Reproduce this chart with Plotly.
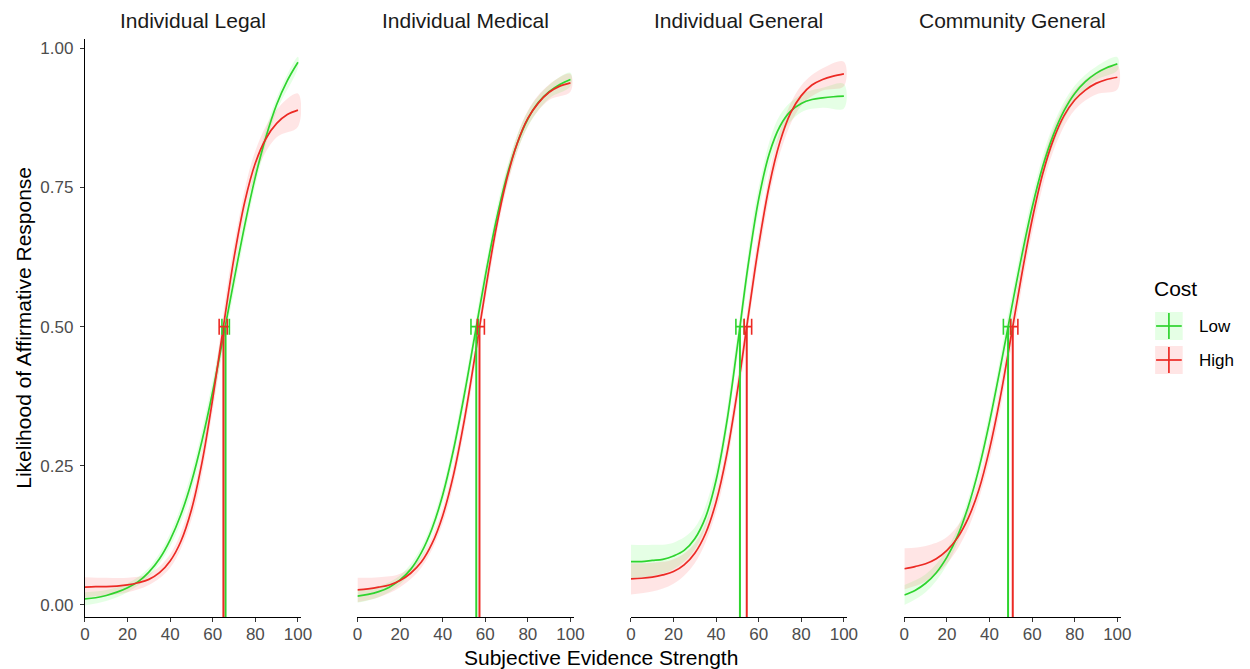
import plotly.graph_objects as go

# ---------------- data ----------------
panels = ["Individual Legal", "Individual Medical", "Individual General", "Community General"]
cost_levels = ["Low", "High"]

x_grid = [0, 5, 10, 15, 20, 25, 30, 35, 40, 45, 50, 55, 60, 65, 70, 75, 80, 85, 90, 95, 100]
x_ribbon = [0, 10, 20, 30, 40, 50, 60, 70, 80, 90, 100]

legal_low = [0.011, 0.013, 0.017, 0.023, 0.031, 0.042, 0.059, 0.083, 0.117, 0.162, 0.221,
             0.296, 0.384, 0.483, 0.584, 0.682, 0.769, 0.841, 0.899, 0.942, 0.975]
legal_high = [0.032, 0.033, 0.033, 0.034, 0.036, 0.040, 0.046, 0.058, 0.079, 0.114, 0.171,
              0.257, 0.371, 0.500, 0.624, 0.724, 0.794, 0.838, 0.865, 0.881, 0.889]
medical_low = [0.016, 0.019, 0.024, 0.032, 0.045, 0.064, 0.094, 0.137, 0.197, 0.277, 0.374,
               0.482, 0.590, 0.688, 0.768, 0.829, 0.873, 0.903, 0.922, 0.935, 0.944]
medical_high = [0.027, 0.029, 0.032, 0.036, 0.044, 0.057, 0.077, 0.110, 0.160, 0.232, 0.328,
                0.443, 0.563, 0.674, 0.763, 0.829, 0.874, 0.902, 0.921, 0.932, 0.938]
general_low = [0.078, 0.078, 0.080, 0.082, 0.088, 0.098, 0.119, 0.157, 0.224, 0.328, 0.465,
               0.609, 0.729, 0.811, 0.860, 0.887, 0.901, 0.908, 0.911, 0.913, 0.914]
general_high = [0.047, 0.048, 0.050, 0.054, 0.060, 0.072, 0.093, 0.128, 0.185, 0.270, 0.384,
                0.516, 0.646, 0.754, 0.832, 0.884, 0.915, 0.934, 0.944, 0.950, 0.954]
community_low = [0.018, 0.026, 0.039, 0.058, 0.086, 0.124, 0.177, 0.245, 0.329, 0.425, 0.526,
                 0.625, 0.714, 0.788, 0.845, 0.888, 0.919, 0.940, 0.955, 0.965, 0.972]
community_high = [0.065, 0.069, 0.074, 0.083, 0.098, 0.121, 0.156, 0.207, 0.280, 0.372, 0.480,
                  0.591, 0.692, 0.775, 0.836, 0.879, 0.907, 0.925, 0.937, 0.944, 0.948]

# confidence-band half widths at x_ribbon
legal_low_hw = [0.012, 0.010, 0.008, 0.008, 0.012, 0.018, 0.020, 0.020, 0.016, 0.012, 0.010]
legal_high_hw = [0.018, 0.016, 0.013, 0.010, 0.012, 0.018, 0.022, 0.024, 0.022, 0.025, 0.030]
medical_low_hw = [0.012, 0.010, 0.008, 0.010, 0.014, 0.018, 0.018, 0.016, 0.014, 0.012, 0.012]
medical_high_hw = [0.022, 0.018, 0.012, 0.010, 0.014, 0.018, 0.018, 0.016, 0.014, 0.014, 0.016]
general_low_hw = [0.030, 0.028, 0.024, 0.020, 0.020, 0.022, 0.022, 0.020, 0.016, 0.018, 0.022]
general_high_hw = [0.028, 0.026, 0.022, 0.018, 0.018, 0.022, 0.022, 0.020, 0.018, 0.020, 0.022]
community_low_hw = [0.018, 0.016, 0.014, 0.014, 0.018, 0.022, 0.020, 0.018, 0.014, 0.012, 0.012]
community_high_hw = [0.037, 0.032, 0.024, 0.018, 0.020, 0.024, 0.024, 0.020, 0.018, 0.020, 0.022]

# 50% thresholds and their intervals
threshold_low = [66.0, 55.8, 51.2, 48.7]
threshold_low_ci_lo = [64.3, 53.3, 49.3, 46.5]
threshold_low_ci_hi = [67.8, 56.8, 53.2, 49.9]
threshold_high = [65.0, 57.3, 54.4, 50.9]
threshold_high_ci_lo = [63.0, 56.3, 53.2, 49.9]
threshold_high_ci_hi = [66.8, 59.6, 56.7, 53.3]

x_ticks = [0, 20, 40, 60, 80, 100]
y_ticks = [0, 0.25, 0.5, 0.75, 1.0]
y_tick_labels = ["0.00", "0.25", "0.50", "0.75", "1.00"]

curves_low = [legal_low, medical_low, general_low, community_low]
curves_high = [legal_high, medical_high, general_high, community_high]
hw_low = [legal_low_hw, medical_low_hw, general_low_hw, community_low_hw]
hw_high = [legal_high_hw, medical_high_hw, general_high_hw, community_high_hw]

# ---------------- style ----------------
W, H = 1250, 669
FONT = "Liberation Sans, Arial, Helvetica, sans-serif"
GREEN = "#2ED42E"
RED = "#EC2A24"
GREEN_FILL = "rgba(0,255,0,0.10)"
RED_FILL = "rgba(255,0,0,0.10)"
X_RANGE = [0, 101.5]
Y_RANGE = [-0.0216, 1.0167]

panel_px = [(81, 300), (357, 576), (634, 853), (911, 1130)]
plot_top_px, plot_bot_px = 39, 617


def px_x(p):
    return p / W


def px_y(p):
    return 1 - p / H


fig = go.Figure()

for i in range(4):
    xa = "x" if i == 0 else f"x{i + 1}"
    series = [(curves_low[i], hw_low[i], GREEN, GREEN_FILL,
               threshold_low[i], threshold_low_ci_lo[i], threshold_low_ci_hi[i]),
              (curves_high[i], hw_high[i], RED, RED_FILL,
               threshold_high[i], threshold_high_ci_lo[i], threshold_high_ci_hi[i])]
    # ribbons
    for curve, hw, col, fillc, *_ in series:
        mids = [curve[x_grid.index(xv)] for xv in x_ribbon]
        upper = [m + h for m, h in zip(mids, hw)]
        lower = [m - h for m, h in zip(mids, hw)]
        fig.add_trace(go.Scatter(
            x=x_ribbon + x_ribbon[::-1], y=upper + lower[::-1],
            fill="toself", fillcolor=fillc, line=dict(width=0, shape="spline"),
            mode="lines", hoverinfo="skip", showlegend=False, xaxis=xa, yaxis="y"))
    # curves
    for curve, hw, col, fillc, *_ in series:
        fig.add_trace(go.Scatter(
            x=x_grid, y=curve, mode="lines",
            line=dict(color=col, width=1.7, shape="spline"),
            showlegend=False, xaxis=xa, yaxis="y"))
    # vertical threshold lines
    for curve, hw, col, fillc, t, lo, hi in series:
        fig.add_trace(go.Scatter(
            x=[t, t], y=[Y_RANGE[0], 0.5], mode="lines",
            line=dict(color=col, width=2),
            showlegend=False, xaxis=xa, yaxis="y"))
    # horizontal error bars
    for curve, hw, col, fillc, t, lo, hi in series:
        fig.add_trace(go.Scatter(
            x=[t], y=[0.5], mode="markers", marker=dict(size=0.1, color=col, opacity=0),
            error_x=dict(type="data", symmetric=False, array=[hi - t], arrayminus=[t - lo],
                         color=col, thickness=1.6, width=8),
            showlegend=False, xaxis=xa, yaxis="y"))

layout = dict(
    width=W, height=H,
    margin=dict(l=0, r=0, t=0, b=0),
    paper_bgcolor="white", plot_bgcolor="white",
    font=dict(family=FONT, color="black"),
    showlegend=False,
    yaxis=dict(
        domain=[px_y(plot_bot_px), px_y(plot_top_px)], range=Y_RANGE, anchor="x",
        tickmode="array", tickvals=y_ticks, ticktext=y_tick_labels,
        ticks="outside", ticklen=4, tickwidth=1.1, tickcolor="#333333",
        tickfont=dict(size=17, color="#4D4D4D", family=FONT),
        ticklabelstandoff=3,
        showline=True, linecolor="black", linewidth=1.4,
        showgrid=False, zeroline=False,
    ),
)
for i in range(4):
    key = "xaxis" if i == 0 else f"xaxis{i + 1}"
    l, r = panel_px[i]
    layout[key] = dict(
        domain=[px_x(l), px_x(r)], range=X_RANGE, anchor="y",
        tickmode="array", tickvals=x_ticks,
        ticks="outside", ticklen=4, tickwidth=1.1, tickcolor="#333333",
        tickfont=dict(size=17, color="#4D4D4D", family=FONT),
        ticklabelstandoff=-3,
        showline=True, linecolor="black", linewidth=1.4,
        showgrid=False, zeroline=False,
    )
fig.update_layout(**layout)

annotations = []
for i, name in enumerate(panels):
    l, r = panel_px[i]
    annotations.append(dict(
        text=name, x=px_x((l + r) / 2), y=px_y(20), xref="paper", yref="paper",
        showarrow=False, xanchor="center", yanchor="middle",
        font=dict(size=21, color="#1A1A1A", family=FONT)))
annotations.append(dict(
    text="Subjective Evidence Strength", x=px_x(604), y=px_y(657), xref="paper", yref="paper",
    showarrow=False, xanchor="center", yanchor="middle", font=dict(size=21, color="black", family=FONT)))
annotations.append(dict(
    text="Likelihood of Affirmative Response", x=px_x(19), y=px_y(328), xref="paper", yref="paper",
    showarrow=False, textangle=-90, xanchor="center", yanchor="middle",
    font=dict(size=21, color="black", family=FONT)))

# legend (drawn manually)
annotations.append(dict(
    text="Cost", x=px_x(1162), y=px_y(288), xref="paper", yref="paper",
    showarrow=False, xanchor="left", yanchor="middle", font=dict(size=21, color="black", family=FONT)))
shapes = []
legend_items = [(cost_levels[0], GREEN, GREEN_FILL, 326), (cost_levels[1], RED, RED_FILL, 360)]
for label, col, fillc, cy in legend_items:
    shapes.append(dict(type="rect", xref="paper", yref="paper",
                       x0=px_x(1165), x1=px_x(1193), y0=px_y(cy - 14), y1=px_y(cy + 14),
                       fillcolor=fillc, line=dict(width=0), layer="below"))
    shapes.append(dict(type="line", xref="paper", yref="paper",
                       x0=px_x(1166), x1=px_x(1192), y0=px_y(cy), y1=px_y(cy),
                       line=dict(color=col, width=1.7)))
    shapes.append(dict(type="line", xref="paper", yref="paper",
                       x0=px_x(1179), x1=px_x(1179), y0=px_y(cy - 13), y1=px_y(cy + 13),
                       line=dict(color=col, width=1.7)))
    annotations.append(dict(
        text=label, x=px_x(1207), y=px_y(cy), xref="paper", yref="paper",
        showarrow=False, xanchor="left", yanchor="middle", font=dict(size=17, color="black", family=FONT)))

fig.update_layout(annotations=annotations, shapes=shapes)
fig.write_html("out.html")
